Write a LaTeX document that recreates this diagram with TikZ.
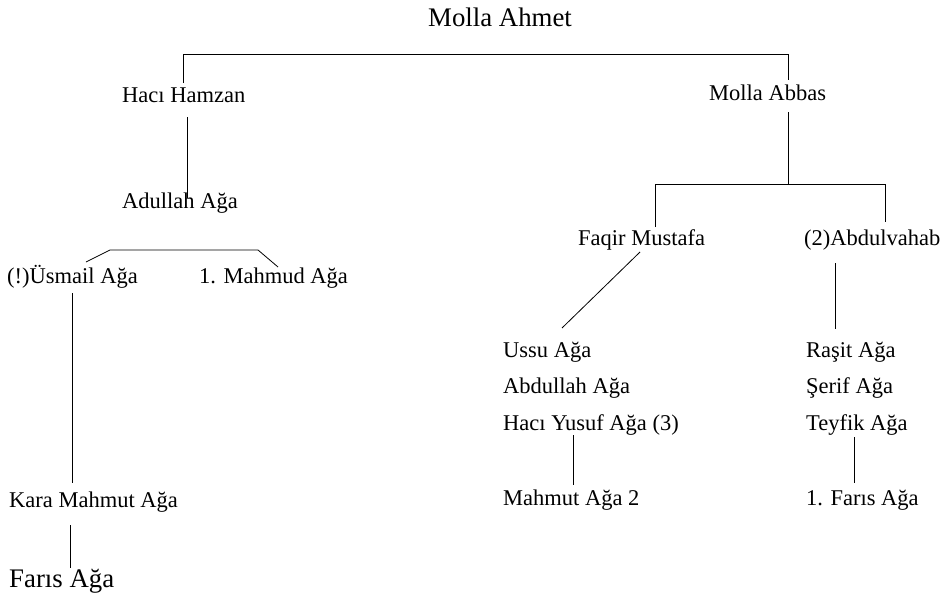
\documentclass[tikz,border=0pt]{standalone}
\usepackage{fontspec}
\setmainfont{Liberation Serif}
\begin{document}
\begin{tikzpicture}[x=1pt,y=-1pt,
  lbl/.style={anchor=base west, inner sep=0pt, font=\fontsize{22.5}{27}\selectfont},
  biglbl/.style={anchor=base west, inner sep=0pt, font=\fontsize{26.8}{32}\selectfont},
  link/.style={draw=black, line width=0.8pt}]
\useasboundingbox (0,0) rectangle (952,594);
% names
\node[biglbl] (ahmet) at (428,27) {Molla Ahmet};
\node[lbl] (hamzan) at (122,102) {Hacı Hamzan};
\node[lbl] (abbas) at (709,100) {Molla Abbas};
\node[lbl] (adullah) at (122,208) {Adullah Ağa};
\node[lbl] (usmail) at (7,283) {(!)Üsmail Ağa};
\node[lbl] (mahmud) at (199,283) {1. Mahmud Ağa};
\node[lbl] (kara) at (9,507) {Kara Mahmut Ağa};
\node[biglbl] (faris) at (9,587) {Farıs Ağa};
\node[lbl] (faqir) at (578,245) {Faqir Mustafa};
\node[lbl] (vahab) at (804,245) {(2)Abdulvahab};
\node[lbl] (ussu) at (503,357) {Ussu Ağa};
\node[lbl] (abdullah) at (503,393) {Abdullah Ağa};
\node[lbl] (yusuf) at (503,430) {Hacı Yusuf Ağa (3)};
\node[lbl] (mahmut) at (503,505) {Mahmut Ağa 2};
\node[lbl] (rasit) at (806,357) {Raşit Ağa};
\node[lbl] (serif) at (806,393) {Şerif Ağa};
\node[lbl] (teyfik) at (806,430) {Teyfik Ağa};
\node[lbl] (faris1) at (806,505) {1. Farıs Ağa};
% connector end points
\coordinate (hamzanTop) at (183,83);
\coordinate (topL) at (183,54);
\coordinate (topR) at (788,54);
\coordinate (abbasTop) at (788,80);
\coordinate (hamzanBot) at (187,117);
\coordinate (adullahTop) at (187,198);
\coordinate (usmailTop) at (86,262);
\coordinate (brL) at (110,250);
\coordinate (brR) at (258,250);
\coordinate (mahmudTop) at (278,267);
\coordinate (usmailBot) at (72,293);
\coordinate (karaTop) at (72,483);
\coordinate (karaBot) at (70,525);
\coordinate (farisTop) at (70,568);
\coordinate (abbasBot) at (788,112);
\coordinate (abbasJ) at (788,184);
\coordinate (faqirTop) at (655,227);
\coordinate (brL2) at (655,184);
\coordinate (brR2) at (885,184);
\coordinate (vahabTop) at (885,222);
\coordinate (faqirBot) at (640,252);
\coordinate (ussuTop) at (562,328);
\coordinate (vahabBot) at (835,263);
\coordinate (rasitTop) at (835,329);
\coordinate (yusufBot) at (573,435);
\coordinate (mahmutTop) at (573,485);
\coordinate (teyfikBot) at (854,437);
\coordinate (faris1Top) at (854,483);
% connectors
\draw[link] (hamzanTop) -- (topL) -- (topR) -- (abbasTop);
\draw[link] (hamzanBot) -- (adullahTop);
\draw[link] (usmailTop) -- (brL) -- (brR) -- (mahmudTop);
\draw[link] (usmailBot) -- (karaTop);
\draw[link] (karaBot) -- (farisTop);
\draw[link] (abbasBot) -- (abbasJ);
\draw[link] (faqirTop) -- (brL2) -- (brR2) -- (vahabTop);
\draw[link] (faqirBot) -- (ussuTop);
\draw[link] (vahabBot) -- (rasitTop);
\draw[link] (yusufBot) -- (mahmutTop);
\draw[link] (teyfikBot) -- (faris1Top);
\end{tikzpicture}
\end{document}
